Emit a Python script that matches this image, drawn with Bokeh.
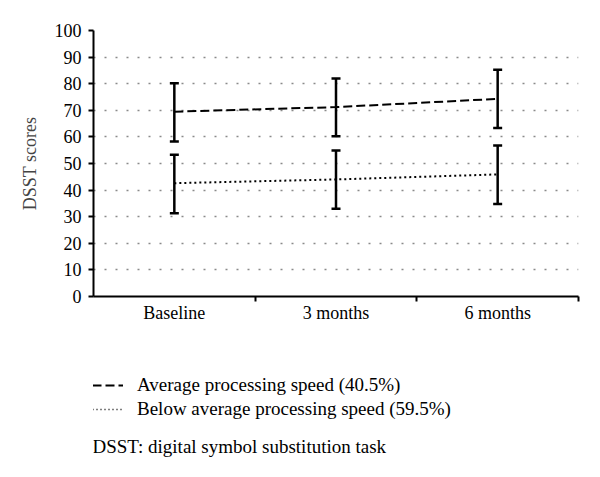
from bokeh.plotting import figure
from bokeh.layouts import column
from bokeh.models import (ColumnDataSource, Whisker, TeeHead, Range1d, LinearAxis, Label,
                          CategoricalAxis, FixedTicker, Legend, LegendItem, FactorRange,
                          CustomJSTickFormatter)
from bokeh.embed import file_html
from bokeh.resources import INLINE

categories = ["Baseline", "3 months", "6 months"]
y_ticks = [0, 10, 20, 30, 40, 50, 60, 70, 80, 90, 100]

avg_mean = [69.5, 71.2, 74.3]
avg_lower = [58.3, 60.2, 63.3]
avg_upper = [80.2, 82.0, 85.2]

below_mean = [42.6, 44.0, 45.9]
below_lower = [31.3, 33.0, 34.8]
below_upper = [53.3, 54.9, 56.8]

avg_label = "Average processing speed (40.5%)"
below_label = "Below average processing speed (59.5%)"
footnote = "DSST: digital symbol substitution task"
y_title = "DSST scores"

FONT = "Liberation Serif"
AVG_DASH = "9 4"
BELOW_DASH = "2 3"

W = 600
H1, H2 = 340, 137
p = figure(width=W, height=H1, x_range=FactorRange(*categories, range_padding=0),
           y_range=Range1d(0, 100), output_backend="svg", toolbar_location=None,
           x_axis_location=None, min_border_left=93, min_border_right=22,
           min_border_top=30, min_border_bottom=44)
p.outline_line_color = None
p.background_fill_color = "white"
p.border_fill_color = "white"

# y axis
yax = p.yaxis[0]
yax.ticker = FixedTicker(ticks=y_ticks)
yax.axis_line_color = "black"
yax.axis_line_width = 2
yax.major_tick_in = 0
yax.major_tick_out = 5
yax.major_tick_line_width = 2
yax.minor_tick_line_color = None
yax.major_label_standoff = 7
yax.major_label_text_font = FONT
yax.major_label_text_font_size = "18px"
yax.major_label_text_color = "black"
yax.axis_label = y_title
yax.axis_label_text_font = FONT
yax.axis_label_text_font_size = "18px"
yax.axis_label_text_font_style = "normal"
yax.axis_label_standoff = 12

# x: tick-only axis at category boundaries (synthetic coordinates of the factor range)
tick_axis = LinearAxis(ticker=FixedTicker(ticks=list(range(1, len(categories) + 1))),
                       formatter=CustomJSTickFormatter(code="return ''"),
                       axis_line_color="black", axis_line_width=2,
                       major_tick_in=0, major_tick_out=5, major_tick_line_width=2,
                       minor_tick_line_color=None, major_label_standoff=0)
p.add_layout(tick_axis, "below")
cat_axis = CategoricalAxis(axis_line_color=None, major_tick_line_color=None,
                           minor_tick_line_color=None, major_label_standoff=-5,
                           major_label_text_font=FONT, major_label_text_font_size="18px",
                           major_label_text_color="black")
p.add_layout(cat_axis, "below")

# grid
p.xgrid.grid_line_color = None
p.ygrid.ticker = FixedTicker(ticks=y_ticks[1:])
p.ygrid.grid_line_color = "#8a8a8a"
p.ygrid.grid_line_dash = "2 9"
p.ygrid.grid_line_width = 1.5

src = ColumnDataSource(dict(x=categories, am=avg_mean, al=avg_lower, au=avg_upper,
                            bm=below_mean, bl=below_lower, bu=below_upper))

p.line("x", "am", source=src, line_color="black", line_width=2, line_dash=AVG_DASH)
p.line("x", "bm", source=src, line_color="black", line_width=2, line_dash=BELOW_DASH)

for lo, up in (("al", "au"), ("bl", "bu")):
    w = Whisker(base="x", lower=lo, upper=up, source=src, line_color="black", line_width=2.5,
                upper_head=TeeHead(size=9, line_width=2.5, line_color="black"),
                lower_head=TeeHead(size=9, line_width=2.5, line_color="black"))
    p.add_layout(w)

# legend + footnote panel (its frame is aligned with the chart's frame)
q = figure(width=W, height=H2, x_range=Range1d(0, 1), y_range=Range1d(0, 1),
           output_backend="svg", toolbar_location=None, min_border=0,
           x_axis_location=None, y_axis_location=None)
q.outline_line_color = None
q.grid.visible = False
q.background_fill_color = "white"
q.border_fill_color = "white"
# series drawn off this panel's range: only their legend samples are visible
idx = list(range(len(categories)))
la = q.line(idx, avg_mean, line_color="black", line_width=2, line_dash=AVG_DASH)
lb = q.line(idx, below_mean, line_color="black", line_width=1.5, line_dash="1 3")

legend = Legend(items=[LegendItem(label=avg_label, renderers=[la]),
                       LegendItem(label=below_label, renderers=[lb])],
                location=(-1, 57), padding=0, margin=0, spacing=2,
                glyph_width=31, glyph_height=20, label_height=20, label_standoff=14,
                label_text_font=FONT, label_text_font_size="19px", label_text_color="black",
                border_line_color=None, background_fill_alpha=0)
q.add_layout(legend, "center")

note = Label(x=-1, y=31, x_units="screen", y_units="screen", text=footnote,
             text_font=FONT, text_font_size="19px", text_baseline="middle",
             text_color="black")
q.add_layout(note)

layout = column(p, q, spacing=0)
open("out.html", "w").write(file_html(layout, INLINE))
